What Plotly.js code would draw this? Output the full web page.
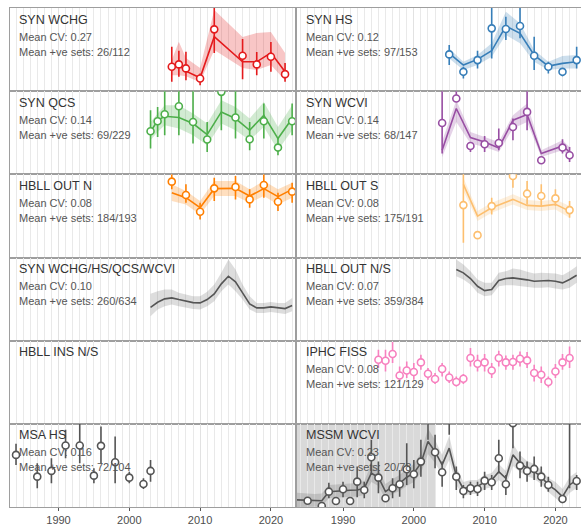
<!DOCTYPE html>
<html><head><meta charset="utf-8">
<script src="https://cdn.plot.ly/plotly-3.0.1.min.js"></script>
<style>html,body{margin:0;padding:0;background:#fff}#chart{width:581px;height:527px}</style>
</head><body><div id="chart"></div>
<script>
// ---------- SYN WCHG ----------
const wchgYears = [2006,2007,2008,2010,2012,2016,2018,2020,2022];
const wchgObs = [2.43,2.67,2.27,1.27,6.17,3.53,2.67,3.43,1.7];
const wchgLo = [0.93,1.43,1.1,0.6,3.8,1.2,1.6,1.93,0.93];
const wchgHi = [4.43,4.03,3.93,1.77,9.5,5.2,3.9,4.9,2.8];
const wchgFit = [2.43,2.6,2.0,1.33,5.43,2.93,2.93,3.83,1.93];
const wchgFitLo = [1.6,1.6,1.5,0.9,4.1,2.3,2.1,2.6,1.1];
const wchgFitHi = [3.1,4.93,3.3,2.3,8.1,5.4,5.8,5.9,3.8];
// ---------- SYN HS ----------
const hsYears = [2005,2007,2009,2011,2013,2015,2017,2019,2021,2023];
const hsObs = [3.67,1.93,3.1,6.27,6.2,6.5,3.53,2.43,1.93,3.1];
const hsLo = [2.6,1.27,2.27,3.27,5.1,5.27,2.1,1.77,1.5,2.27];
const hsHi = [4.6,2.43,4.03,9.5,7.43,9.5,5.43,2.93,2.27,4.43];
const hsFit = [3.77,2.6,3.17,4.03,6.5,5.77,3.6,2.5,2.77,2.93];
const hsFitLo = [3.27,2.1,2.6,3.43,5.6,4.77,2.93,2.1,2.27,2.27];
const hsFitHi = [4.27,2.93,3.6,4.77,7.93,6.77,4.1,2.93,3.5,3.6];
// ---------- SYN QCS ----------
const qcsYears = [2003,2004,2005,2007,2009,2011,2013,2015,2017,2019,2021,2023];
const qcsObs = [4.3,5.3,6.0,6.8,5.23,3.47,8.23,5.67,3.5,5.3,2.67,5.3];
const qcsLo = [2.57,3.73,3.9,3.9,3.07,2.23,4.4,3.57,2.4,3.57,1.9,3.9];
const qcsHi = [6.4,6.73,9.5,9.5,9.5,5.23,9.5,9.5,5.23,7.07,3.73,7.07];
const qcsFit = [4.23,5.4,5.8,5.67,5.07,3.97,6.23,5.57,4.4,5.9,3.57,5.57];
const qcsFitLo = [3.4,4.23,4.9,4.57,3.9,2.9,5.07,4.4,3.4,4.73,2.4,4.4];
const qcsFitHi = [5.23,6.07,6.9,6.9,6.07,5.07,7.4,6.73,5.57,7.23,4.73,6.9];
// ---------- SYN WCVI ----------
const wcviYears = [2004,2006,2008,2010,2012,2014,2016,2018,2021,2022];
const wcviObs = [5.13,7.57,2.83,3.0,3.13,4.73,6.23,1.4,2.67,1.9];
const wcviLo = [2.07,7.23,2.23,2.23,2.4,3.4,4.4,1.07,2.07,1.23];
const wcviHi = [9.5,9.5,3.23,3.83,4.57,5.57,9.5,1.73,3.5,2.73];
const wcviFit = [2.4,6.57,3.67,3.23,2.63,5.4,5.97,2.07,2.83,2.23];
const wcviFitLo = [1.7,5.23,3.07,2.73,2.23,4.57,5.23,1.73,2.4,1.73];
const wcviFitHi = [3.3,7.4,4.23,3.73,3.23,5.9,7.07,2.4,3.4,2.73];
// ---------- HBLL OUT N ----------
const hbnYears = [2006,2008,2010,2012,2015,2017,2019,2021,2023];
const hbnObs = [7.57,6.23,4.57,6.9,7.03,5.8,7.23,5.57,6.57];
const hbnLo = [6.8,5.47,3.8,5.63,5.8,4.97,5.97,4.63,5.47];
const hbnHi = [8.3,7.3,5.47,7.97,8.13,6.8,8.3,6.47,7.47];
const hbnFit = [6.47,5.97,4.97,6.87,6.9,6.13,6.87,6.07,6.8];
const hbnFitLo = [5.63,5.3,4.3,6.13,6.13,5.47,6.13,5.3,5.97];
const hbnFitHi = [7.3,6.63,5.63,7.63,7.63,6.8,7.63,6.8,7.47];
// ---------- HBLL OUT S ----------
const hbsYears = [2007,2009,2011,2014,2016,2018,2020,2022];
const hbsObs = [5.23,2.23,5.13,8.13,6.37,6.13,5.9,4.73];
const hbsLo = [1.47,1.97,4.3,6.97,5.3,5.13,5.13,3.97];
const hbsHi = [9.5,2.47,5.97,9.5,7.63,7.3,6.8,5.63];
const hbsFit = [7.3,4.13,4.97,5.8,5.2,5.13,5.3,4.63];
const hbsFitLo = [6.63,3.63,4.47,5.3,4.73,4.63,4.8,3.97];
const hbsFitHi = [7.97,4.63,5.47,6.3,5.73,5.63,5.8,5.13];
// ---------- SYN WCHG/HS/QCS/WCVI (model only) ----------
const synAllYears = [2003,2004,2005,2006,2007,2008,2009,2010,2011,2012,2013,2014,2015,2016,2017,2018,2019,2020,2021,2022,2023];
const synAllFit = [3.33,3.83,4.17,4.27,4.1,3.93,3.8,3.77,4.1,4.67,5.67,6.43,5.87,4.77,3.67,3.27,3.27,3.37,3.27,3.2,3.5];
const synAllLo = [2.43,3.1,3.43,3.6,3.43,3.27,3.17,3.1,3.43,3.93,4.93,5.6,4.93,4.1,3.1,2.77,2.77,2.87,2.77,2.67,2.93];
const synAllHi = [4.67,4.93,5.1,5.1,4.77,4.6,4.43,4.43,4.87,5.6,6.77,8.1,7.1,5.6,4.43,3.77,3.77,3.87,3.77,3.77,4.27];
// ---------- HBLL OUT N/S (model only) ----------
const hbAllYears = [2006,2007,2008,2009,2010,2011,2012,2013,2014,2015,2016,2017,2018,2019,2020,2021,2022,2023];
const hbAllFit = [7.1,6.77,6.2,5.43,5.0,5.1,6.0,6.2,6.27,6.2,6.07,5.93,6.0,6.0,5.93,5.77,6.1,6.53];
const hbAllLo = [6.43,6.1,5.6,4.77,4.43,4.53,5.43,5.53,5.53,5.43,5.33,5.27,5.27,5.33,5.2,5.1,5.27,5.77];
const hbAllHi = [8.1,7.6,6.93,6.1,5.77,5.77,6.77,6.93,7.2,7.1,6.87,6.7,6.77,6.77,6.7,6.53,6.93,7.43];
// ---------- IPHC FISS ----------
const iphcYears = [1995,1996,1997,1998,1999,2000,2001,2002,2003,2004,2005,2006,2007,2008,2009,2010,2011,2012,2013,2014,2015,2016,2017,2018,2019,2020,2021,2022];
const iphcObs = [6.4,6.3,6.97,4.83,5.33,5.17,6.13,5.0,4.47,5.47,4.63,4.17,4.5,6.57,6.0,6.13,5.33,6.57,6.13,6.17,6.5,6.33,5.07,4.9,4.17,5.23,6.13,6.57];
const iphcLo = [5.57,5.23,6.07,4.23,4.57,4.4,5.4,4.4,3.97,4.73,4.07,3.73,3.97,5.73,5.23,5.23,4.57,5.73,5.4,5.4,5.73,5.57,4.23,4.07,3.63,4.57,5.4,5.57];
const iphcHi = [7.4,7.4,8.17,5.73,6.23,6.07,6.9,5.57,5.07,6.07,5.23,4.73,4.97,7.57,6.9,6.97,6.07,7.3,6.83,6.9,7.23,7.17,5.9,5.73,4.73,5.97,6.97,7.73];
// ---------- MSA HS ----------
const msaYears = [1984,1987,1989,1991,1993,1995,1996,1998,2000,2002,2003];
const msaObs = [5.2,3.03,3.6,6.13,6.13,3.13,6.1,4.47,2.93,2.3,3.6];
const msaLo = [4.2,1.87,2.37,4.87,4.37,2.37,4.37,2.37,2.37,1.8,2.53];
const msaHi = [6.3,4.37,4.87,7.7,8.5,3.87,8.03,7.03,3.53,2.87,4.7];
// ---------- MSSM WCVI ----------
const mssmYears = [1985,1987,1988,1989,1990,1991,1992,1993,1994,1995,1996,1997,1998,1999,2000,2001,2002,2003,2004,2005,2006,2007,2008,2009,2010,2011,2012,2013,2014,2015,2016,2017,2018,2019,2021,2022,2023];
const mssmObs = [0.63,0.1,1.53,0.6,1.77,0.6,2.53,1.7,4.97,2.93,0.87,1.87,2.27,3.77,3.27,4.53,9.8,5.47,3.47,9.5,3.03,1.6,1.87,1.8,2.63,2.47,4.87,2.27,8.37,4.13,3.6,3.8,3.03,2.2,0.8,9.5,2.6];
const mssmLo = [0.37,-0.03,0.87,0.37,0.97,0.3,0.97,0.87,3.2,1.37,0.53,0.87,1.03,2.2,1.87,3.03,6.7,3.87,2.03,7.2,1.7,0.87,1.2,1.1,1.7,1.7,3.37,1.2,5.87,2.87,2.53,2.7,2.03,1.53,0.53,1.87,1.7];
const mssmHi = [0.87,0.37,2.43,0.87,2.53,0.87,4.03,2.53,6.7,4.53,1.2,2.87,3.7,6.37,4.7,6.7,12,7.2,4.53,12,4.03,2.2,2.53,2.53,3.53,3.2,6.7,3.2,11,5.53,4.53,5.03,4.03,3.03,1.1,12,3.2];
const mssmFitYears = [1983,1984,1985,1986,1987,1988,1989,1990,1991,1992,1993,1994,1995,1996,1997,1998,1999,2000,2001,2002,2003,2004,2005,2006,2007,2008,2009,2010,2011,2012,2013,2014,2015,2016,2017,2018,2019,2020,2021,2022,2023];
const mssmFit = [0.72,0.7,0.63,0.63,0.63,1.53,1.6,1.63,1.67,1.7,1.87,3.37,2.97,1.53,2.03,2.37,2.97,3.37,4.37,6.53,5.53,4.2,5.87,3.1,1.8,2.03,2.03,2.53,2.7,3.53,2.87,5.2,4.37,3.87,3.53,3.03,2.2,1.7,1.03,2.2,2.7];
const mssmFitHi = [1.45,1.4,1.3,1.3,1.35,2.2,2.25,2.3,2.35,2.4,2.6,4.3,3.8,2.3,2.8,3.2,3.8,4.3,5.4,7.8,6.7,5.2,7.1,4.0,2.5,2.7,2.7,3.2,3.4,4.3,3.6,6.3,5.2,4.6,4.3,3.7,2.9,2.5,1.8,3.0,3.5];
const mssmFitLo = [0.0,0.0,0.0,0.05,0.05,0.9,0.95,1.0,1.0,1.05,1.2,2.5,2.1,0.8,1.3,1.6,2.1,2.5,3.4,5.3,4.4,3.2,4.7,2.2,1.1,1.3,1.3,1.8,2.0,2.7,2.1,4.1,3.5,3.1,2.8,2.3,1.5,0.9,0.3,1.4,1.9];
const mssmShadeEnd = 2003.1;

// ---------- panel labels ----------
const panelNames = ['SYN WCHG','SYN HS','SYN QCS','SYN WCVI','HBLL OUT N','HBLL OUT S','SYN WCHG/HS/QCS/WCVI','HBLL OUT N/S','HBLL INS N/S','IPHC FISS','MSA HS','MSSM WCVI'];
const panelCV = ['0.27','0.12','0.14','0.14','0.08','0.08','0.10','0.07',null,'0.08','0.16','0.23'];
const panelSets = ['26/112','97/153','69/229','68/147','184/193','175/191','260/634','359/384',null,'121/129','72/104','20/78'];
const panelColors = ['#E41A1C','#377EB8','#4DAF4A','#984EA3','#FF7F00','#FDBF6F','#555555','#555555','#555555','#F781BF','#555555','#555555'];
const decadeTicks = [1990,2000,2010,2020];

const panels = [
  {obs:[wchgYears,wchgObs,wchgLo,wchgHi], fit:[wchgYears,wchgFit,wchgFitLo,wchgFitHi]},
  {obs:[hsYears,hsObs,hsLo,hsHi], fit:[hsYears,hsFit,hsFitLo,hsFitHi]},
  {obs:[qcsYears,qcsObs,qcsLo,qcsHi], fit:[qcsYears,qcsFit,qcsFitLo,qcsFitHi]},
  {obs:[wcviYears,wcviObs,wcviLo,wcviHi], fit:[wcviYears,wcviFit,wcviFitLo,wcviFitHi]},
  {obs:[hbnYears,hbnObs,hbnLo,hbnHi], fit:[hbnYears,hbnFit,hbnFitLo,hbnFitHi]},
  {obs:[hbsYears,hbsObs,hbsLo,hbsHi], fit:[hbsYears,hbsFit,hbsFitLo,hbsFitHi]},
  {fit:[synAllYears,synAllFit,synAllLo,synAllHi]},
  {fit:[hbAllYears,hbAllFit,hbAllLo,hbAllHi]},
  {},
  {obs:[iphcYears,iphcObs,iphcLo,iphcHi]},
  {obs:[msaYears,msaObs,msaLo,msaHi]},
  {obs:[mssmYears,mssmObs,mssmLo,mssmHi], fit:[mssmFitYears,mssmFit,mssmFitLo,mssmFitHi], shadeTo: mssmShadeEnd}
];

function rgba(hex, a){
  const n = parseInt(hex.slice(1),16);
  return `rgba(${(n>>16)&255},${(n>>8)&255},${n&255},${a})`;
}

const FONT = 'Liberation Sans, Arial, Helvetica, sans-serif';
const W = 581, H = 527, ML = 10, MR = 0, MT = 8, MB = 20;
const plotW = W - ML - MR;
const colDom = [[0, 285/plotW], [287/plotW, 1]];
const pxPerYear = 7.08;
const colStart = [1983.15, 1983.5];
const colRange = [[colStart[0], colStart[0] + 285/pxPerYear], [colStart[1], colStart[1] + 284/pxPerYear]];

const traces = [];
const layout = {
  width: W, height: H,
  margin: {l: ML, r: MR, t: MT, b: MB},
  paper_bgcolor: '#fff', plot_bgcolor: '#fff',
  showlegend: false,
  font: {family: FONT},
  annotations: [], shapes: []
};

panels.forEach((p, i) => {
  const s = i === 0 ? '' : String(i + 1);
  const row = Math.floor(i / 2), col = i % 2;
  const xa = 'x' + s, ya = 'y' + s;
  const color = panelColors[i];
  const bottom = row === 5;
  layout['xaxis' + s] = {
    domain: colDom[col], range: colRange[col], anchor: ya,
    showline: true, mirror: true, linecolor: '#9e9e9e', linewidth: 1,
    showgrid: true, gridcolor: '#e2e2e2', gridwidth: 1,
    tickmode: 'array', tickvals: decadeTicks, ticktext: decadeTicks.map(String),
    ticks: bottom ? 'outside' : '', ticklen: 3, tickcolor: '#555', tickwidth: 1,
    showticklabels: bottom, tickfont: {size: 11, color: '#4d4d4d', family: FONT},
    minor: {dtick: 1, tick0: 1980, showgrid: true, gridcolor: '#e9e9e9', gridwidth: 1, ticks: ''},
    zeroline: false, fixedrange: true
  };
  layout['yaxis' + s] = {
    domain: [1 - (row + 1) / 6, 1 - row / 6], range: [0, 8.3], anchor: xa,
    showline: true, mirror: true, linecolor: '#9e9e9e', linewidth: 1,
    showgrid: false, zeroline: false, showticklabels: false, ticks: '', fixedrange: true
  };
  // an empty trace so that every facet (including empty ones) is drawn
  traces.push({x: [], y: [], xaxis: xa, yaxis: ya, mode: 'markers', hoverinfo: 'skip'});
  if (p.shadeTo) {
    layout.shapes.push({type: 'rect', layer: 'below', xref: xa, yref: ya + ' domain',
      x0: 1975, x1: p.shadeTo, y0: 0, y1: 1, fillcolor: 'rgba(0,0,0,0.15)', line: {width: 0}});
  }
  if (p.fit) {
    const [fx, fy, flo, fhi] = p.fit;
    traces.push({x: fx, y: flo, xaxis: xa, yaxis: ya, mode: 'lines', line: {width: 0, color: color}, hoverinfo: 'skip'});
    traces.push({x: fx, y: fhi, xaxis: xa, yaxis: ya, mode: 'lines', line: {width: 0, color: color}, fill: 'tonexty',
      fillcolor: rgba(color, color === '#555555' ? 0.2 : 0.25), hoverinfo: 'skip'});
    traces.push({x: fx, y: fy, xaxis: xa, yaxis: ya, mode: 'lines', line: {width: 1.6, color: color}});
  }
  if (p.obs) {
    const [ox, oy, olo, ohi] = p.obs;
    traces.push({x: ox, y: oy, xaxis: xa, yaxis: ya, mode: 'markers',
      marker: {symbol: 'circle', size: 7, color: '#ffffff', line: {color: color, width: 1.6}},
      error_y: {type: 'data', symmetric: false,
        array: ohi.map((h, k) => h - oy[k]), arrayminus: olo.map((l, k) => oy[k] - l),
        color: color, thickness: 1.6, width: 0}});
  }
  const base = {xref: xa + ' domain', yref: ya + ' domain', x: 0, y: 1, xanchor: 'left', yanchor: 'middle', showarrow: false, xshift: 7};
  layout.annotations.push(Object.assign({}, base, {text: panelNames[i], yshift: -11.5, font: {size: 12.5, color: '#333333', family: FONT}}));
  if (panelCV[i] !== null) {
    layout.annotations.push(Object.assign({}, base, {text: 'Mean CV: ' + panelCV[i], yshift: -28.5, font: {size: 11, color: '#555555', family: FONT}}));
    layout.annotations.push(Object.assign({}, base, {text: 'Mean +ve sets: ' + panelSets[i], yshift: -43.5, font: {size: 11, color: '#555555', family: FONT}}));
  }
});

Plotly.newPlot('chart', traces, layout, {staticPlot: true, displayModeBar: false});
</script></body></html>
